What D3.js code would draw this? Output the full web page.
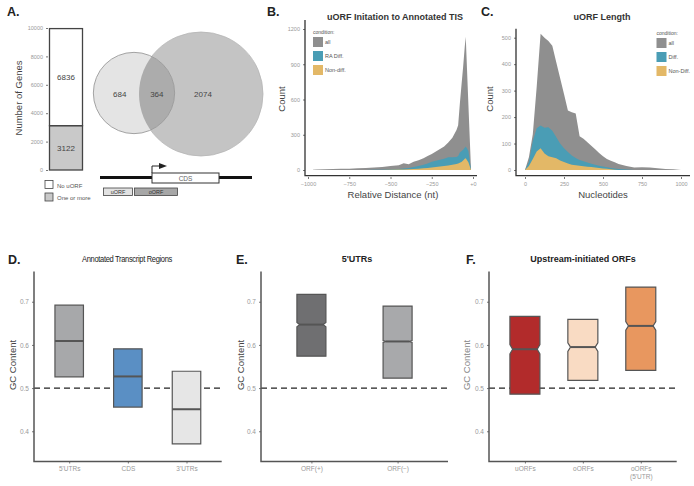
<!DOCTYPE html>
<html lang="en">
<head>
  <meta charset="utf-8">
  <title>uORF figure</title>
  <script src="https://d3js.org/d3.v7.min.js"></script>
  <style>
    body { margin: 0; background: #fff; }
    svg { font-family: "Liberation Sans", Arial, sans-serif; display: block; }
  </style>
</head>
<body>
  <script>
    // ---- panel A ----
    var geneCats = ['No uORF', 'One or more'];
    var geneCounts = [6836, 3122];
    var vennCounts = [684, 364, 2074];   // only-a, both, only-b

    // ---- panel B : distance of uORF start to annotated TIS ----
    var distB = [-970,-950,-900,-850,-800,-750,-700,-650,-600,-550,-500,-450,-420,-390,-360,-330,-300,-275,-250,-225,-200,-175,-150,-125,-100,-90,-80,-70,-60,-50,-44,-28,-12];
    var allB  = [3,5,6,8,10,11,14,17,22,25,34,40,57,50,70,82,100,120,136,158,179,200,235,275,340,380,560,720,874,1050,1135,560,0];
    var diffB = [0,0,0,0,0,0,1,1,2,3,5,9,12,16,26,35,45,55,70,79,88,95,108,108,110,120,150,160,172,190,199,164,0];
    var nonB  = [0,0,0,0,0,0,0,0,1,1,2,4,5,7,9,11,14,18,22,25,30,34,38,44,51,55,62,68,80,95,100,65,0];
    var condB = ['all', 'RA Diff.', 'Non-diff.'];

    // ---- panel C : uORF length ----
    var lenC  = [0,25,50,75,100,125,150,175,200,225,250,275,300,325,350,375,400,425,450,475,500,525,550,575,600,650,700,750,800,850,900,950,1000];
    var allC  = [0,48,135,315,515,500,488,470,408,348,287,225,218,214,128,118,105,92,78,64,52,42,35,29,23,15,9,10,9,7,4,3,0];
    var diffC = [0,30,110,158,168,160,162,148,125,100,82,68,55,45,38,33,28,24,20,16,13,10,8,6,4,2,0,0,0,0,0,0,0];
    var nonC  = [0,15,42,70,82,62,52,48,44,36,30,25,20,18,16,14,12,11,9,8,6,5,3,1,0,0,0,0,0,0,0,0,0];
    var condC = ['all', 'Diff.', 'Non-Diff.'];
    var condColors = ['#8f8f8f', '#4a9db5', '#e3b867'];

    // ---- panels D, E, F : GC content boxes ----
    var catsD = ["5'UTRs", 'CDS', "3'UTRs"];
    var lowD = [0.526, 0.456, 0.371], medD = [0.609, 0.527, 0.451], highD = [0.692, 0.591, 0.539];
    var catsE = ['ORF(+)', 'ORF(\u2212)'];
    var lowE = [0.574, 0.523], medE = [0.647, 0.608], highE = [0.717, 0.690];
    var notchE = [0.005, 0.002];
    var catsF = ['uORFs', 'oORFs', "oORFs\n(5'UTR)"];
    var lowF = [0.486, 0.518, 0.541], medF = [0.590, 0.595, 0.644], highF = [0.666, 0.659, 0.734];
    var notchF = [0.011, 0.010, 0.010];
    var gcTicks = [0.4, 0.5, 0.6, 0.7];

    var svg = d3.select('body').append('svg')
      .attr('width', 694).attr('height', 486);

    function letter(txt, x, y) {
      svg.append('text').attr('x', x).attr('y', y).text(txt)
        .attr('font-size', 12.5).attr('font-weight', 'bold').attr('fill', '#222');
    }
    function styleAxis(g, col) {
      g.select('.domain').remove();
      g.selectAll('line').attr('stroke', '#777');
      g.selectAll('text').attr('fill', col || '#999').attr('font-size', 5.5);
    }
    var plain = d3.format('d');

    // ===================== A =====================
    letter('A.', 7, 16);
    var yA = d3.scaleLinear().domain([0, 10000]).range([170, 28]);
    var gA = svg.append('g');
    gA.append('g').attr('transform', 'translate(48,0)')
      .call(d3.axisLeft(yA).tickValues([0, 2000, 4000, 6000, 8000, 10000]).tickSize(2)
        .tickSizeOuter(0).tickFormat(plain))
      .call(styleAxis);
    var stackA = d3.stack().keys([1, 0])([{0: geneCounts[0], 1: geneCounts[1]}]);
    var fillA = {0: '#ffffff', 1: '#c9c9c9'};
    stackA.forEach(function(s) {
      var d = s[0];
      gA.append('rect').attr('x', 49.5).attr('width', 33)
        .attr('y', yA(d[1])).attr('height', yA(d[0]) - yA(d[1]))
        .attr('fill', fillA[s.key]).attr('stroke', '#444').attr('stroke-width', 1.3);
      gA.append('text').attr('x', 66).attr('y', (yA(d[0]) + yA(d[1])) / 2 + 3)
        .attr('text-anchor', 'middle').attr('font-size', 8).attr('fill', '#444')
        .text(geneCounts[s.key]);
    });
    gA.append('text').attr('transform', 'translate(22,98) rotate(-90)')
      .attr('text-anchor', 'middle').attr('font-size', 9.5).attr('fill', '#444').text('Number of Genes');
    geneCats.forEach(function(c, i) {
      gA.append('rect').attr('x', 45).attr('y', 180.5 + i * 12.5).attr('width', 8).attr('height', 8)
        .attr('fill', fillA[i]).attr('stroke', '#444').attr('stroke-width', 0.8);
      gA.append('text').attr('x', 57).attr('y', 187.5 + i * 12.5).attr('font-size', 6)
        .attr('fill', '#555').text(c);
    });

    // venn
    var rV = d3.scaleSqrt().domain([0, vennCounts[1] + vennCounts[2]]).range([0, 62]);
    var cA = {x: 134, y: 93, r: rV(vennCounts[0] + vennCounts[1])};
    var cB = {x: 201, y: 94, r: rV(vennCounts[1] + vennCounts[2])};
    var defs = svg.append('defs');
    defs.append('clipPath').attr('id', 'clipB').append('circle')
      .attr('cx', cB.x).attr('cy', cB.y).attr('r', cB.r);
    svg.append('circle').attr('cx', cB.x).attr('cy', cB.y).attr('r', cB.r)
      .attr('fill', '#c4c4c4').attr('stroke', '#b5b5b5').attr('stroke-width', 0.8);
    svg.append('circle').attr('cx', cA.x).attr('cy', cA.y).attr('r', cA.r)
      .attr('fill', '#e4e4e4');
    svg.append('circle').attr('cx', cA.x).attr('cy', cA.y).attr('r', cA.r)
      .attr('fill', '#acacac').attr('clip-path', 'url(#clipB)');
    svg.append('circle').attr('cx', cA.x).attr('cy', cA.y).attr('r', cA.r)
      .attr('fill', 'none').attr('stroke', '#9a9a9a').attr('stroke-width', 0.9);
    var vennPos = [cA.x - cA.r / 2 + 6, (cB.x - cB.r + cA.x + cA.r) / 2, cB.x + 2];
    vennCounts.forEach(function(v, i) {
      svg.append('text').attr('x', vennPos[i]).attr('y', 96.5).attr('text-anchor', 'middle')
        .attr('font-size', 8).attr('fill', '#444').text(v);
    });

    // gene model sketch
    svg.append('line').attr('x1', 100).attr('x2', 252).attr('y1', 177.5).attr('y2', 177.5)
      .attr('stroke', '#111').attr('stroke-width', 3);
    svg.append('rect').attr('x', 152).attr('y', 173).attr('width', 67).attr('height', 10)
      .attr('fill', '#fff').attr('stroke', '#333').attr('stroke-width', 1);
    svg.append('text').attr('x', 185.5).attr('y', 180.8).attr('text-anchor', 'middle')
      .attr('font-size', 6.5).attr('fill', '#666').text('CDS');
    svg.append('path').attr('d', 'M152,173 V166 H160').attr('fill', 'none')
      .attr('stroke', '#222').attr('stroke-width', 1);
    svg.append('path').attr('d', 'M159,163 L167,166 L159,169 Z').attr('fill', '#222');
    [['uORF', 103.5, 29, '#e2e2e2'], ['oORF', 134.5, 43, '#a7a7a7']].forEach(function(b) {
      svg.append('rect').attr('x', b[1]).attr('y', 188).attr('width', b[2]).attr('height', 7.5)
        .attr('fill', b[3]).attr('stroke', '#444').attr('stroke-width', 0.8);
      svg.append('text').attr('x', b[1] + b[2] / 2).attr('y', 194).attr('text-anchor', 'middle')
        .attr('font-size', 5.5).attr('fill', '#333').text(b[0]);
    });

    // ===================== B & C (area charts) =====================
    function areaPanel(o) {
      var g = svg.append('g');
      var x = d3.scaleLinear().domain(o.xDom).range(o.xRange);
      var y = d3.scaleLinear().domain(o.yDom).range([170, o.yTop]);
      var area = d3.area().x(function(d) { return x(d[0]); })
        .y0(y(0)).y1(function(d) { return y(d[1]); });
      o.series.forEach(function(vals, i) {
        g.append('path').datum(o.xs.map(function(v, j) { return [v, vals[j]]; }))
          .attr('d', area).attr('fill', condColors[i]);
      });
      g.append('g').attr('transform', 'translate(' + o.axX + ',0)')
        .call(d3.axisLeft(y).tickValues(o.yTicks).tickSize(2).tickFormat(plain)).call(styleAxis);
      g.append('g').attr('transform', 'translate(0,177)')
        .call(d3.axisBottom(x).tickValues(o.xTicks).tickSize(2).tickFormat(o.fmt || plain))
        .call(styleAxis);
      g.append('path').attr('d', 'M' + o.axX + ',' + (o.yTop - 9) + ' V175.7 H' + o.axEnd)
        .attr('fill', 'none').attr('stroke', '#333').attr('stroke-width', 1.3);
      g.append('text').attr('x', o.titleX).attr('y', 19.5).attr('text-anchor', 'middle')
        .attr('font-size', 9).attr('font-weight', 'bold').attr('fill', '#333').text(o.title);
      g.append('text').attr('transform', 'translate(' + o.countX + ',99) rotate(-90)')
        .attr('text-anchor', 'middle').attr('font-size', 9.5).attr('fill', '#444').text('Count');
      g.append('text').attr('x', o.xLabX).attr('y', 198).attr('text-anchor', 'middle')
        .attr('font-size', 9.5).attr('fill', '#444').text(o.xLab);
      // legend
      g.append('text').attr('x', o.legX).attr('y', o.legY).attr('font-size', 5)
        .attr('fill', '#555').text('condition:');
      o.conds.forEach(function(c, i) {
        g.append('rect').attr('x', o.legX).attr('y', o.legY + 3 + i * 14)
          .attr('width', 10).attr('height', 10).attr('fill', condColors[i]);
        g.append('text').attr('x', o.legX + 12).attr('y', o.legY + 10 + i * 14)
          .attr('font-size', 5.5).attr('fill', '#555').text(c);
      });
    }

    letter('B.', 267, 16);
    areaPanel({
      xs: distB, series: [allB, diffB, nonB], conds: condB,
      xDom: [-1000, 0], xRange: [308, 473], yDom: [0, 1200], yTop: 29,
      xTicks: [-1000, -750, -500, -250, 0],
      fmt: function(d) { return d === 0 ? '+0' : plain(d); },
      yTicks: [0, 300, 600, 900, 1200],
      axX: 305, axEnd: 477, title: 'uORF Initation to Annotated TIS', titleX: 395,
      countX: 285, xLab: 'Relative Distance (nt)', xLabX: 393, legX: 313, legY: 34
    });

    letter('C.', 481, 16);
    areaPanel({
      xs: lenC, series: [allC, diffC, nonC], conds: condC,
      xDom: [0, 1000], xRange: [525, 681], yDom: [0, 500], yTop: 37.7,
      xTicks: [0, 250, 500, 750, 1000],
      yTicks: [0, 100, 200, 300, 400, 500],
      axX: 516, axEnd: 690, title: 'uORF Length', titleX: 602,
      countX: 493, xLab: 'Nucleotides', xLabX: 603, legX: 656.5, legY: 35
    });

    // ===================== D, E, F (box plots) =====================
    var yGC = d3.scaleLinear().domain([0.33, 0.77]).range([461.5, 271.5]);

    function boxPanel(o) {
      var g = svg.append('g');
      var x = d3.scalePoint().domain(o.cats).range([o.axX, o.axEnd]).padding(o.pad);
      g.append('line').attr('x1', o.axX).attr('x2', o.axEnd)
        .attr('y1', yGC(0.5)).attr('y2', yGC(0.5))
        .attr('stroke', '#222').attr('stroke-width', 1.4).attr('stroke-dasharray', '6,4');
      o.cats.forEach(function(c, i) {
        var cx = x(c), w = o.boxW / 2;
        var x0 = cx - w, x1 = cx + w;
        var nh = o.notch ? o.notch[i] : 0, d = o.notch ? 2.7 : 0;
        var yH = yGC(o.high[i]), yL = yGC(o.low[i]), ym = yGC(o.med[i]);
        var n1 = yGC(o.med[i] + nh), n2 = yGC(o.med[i] - nh);
        var p = d3.path();
        p.moveTo(x0, yH); p.lineTo(x1, yH); p.lineTo(x1, n1); p.lineTo(x1 - d, ym);
        p.lineTo(x1, n2); p.lineTo(x1, yL); p.lineTo(x0, yL); p.lineTo(x0, n2);
        p.lineTo(x0 + d, ym); p.lineTo(x0, n1); p.closePath();
        g.append('path').attr('d', p.toString()).attr('fill', o.colors[i])
          .attr('stroke', '#555').attr('stroke-width', 1.2);
        g.append('line').attr('x1', x0 + d).attr('x2', x1 - d).attr('y1', ym).attr('y2', ym)
          .attr('stroke', '#555').attr('stroke-width', 2);
      });
      var ya = g.append('g').attr('transform', 'translate(' + o.axX + ',0)')
        .call(d3.axisLeft(yGC).tickValues(gcTicks).tickSize(2).tickFormat(d3.format('.1f')))
        .call(styleAxis);
      ya.selectAll('text').attr('font-size', 6.5);
      var xa = g.append('g').attr('transform', 'translate(0,' + 461.5 + ')')
        .call(d3.axisBottom(x).tickSize(2)).call(styleAxis);
      xa.selectAll('text').attr('font-size', 6.5).attr('fill', '#999').each(function(t) {
        var parts = t.split('\n'), el = d3.select(this);
        el.text(null);
        parts.forEach(function(s, k) {
          el.append('tspan').attr('x', 0).attr('dy', k ? '1.15em' : '0.71em').text(s);
        });
      });
      g.append('path').attr('d', 'M' + o.axX + ',271.5 V461.5 H' + o.axEnd)
        .attr('fill', 'none').attr('stroke', '#555').attr('stroke-width', 1.5);
      g.append('text').attr('transform', 'translate(' + o.labX + ',365) rotate(-90)')
        .attr('text-anchor', 'middle').attr('font-size', 9.5).attr('fill', o.labCol).text('GC Content');
      var t = g.append('text').attr('x', o.titleX).attr('y', 261.5).attr('text-anchor', 'middle')
        .attr('font-size', 9).attr('fill', '#222').text(o.title);
      if (o.narrow) {
        t.attr('textLength', 90).attr('lengthAdjust', 'spacingAndGlyphs').attr('letter-spacing', -0.4);
      } else {
        t.attr('font-weight', 'bold');
      }
    }

    letter('D.', 8, 264);
    boxPanel({
      cats: catsD, low: lowD, med: medD, high: highD,
      colors: ['#a7a8aa', '#5a8fc4', '#e6e6e6'],
      axX: 34, axEnd: 221.7, pad: 0.6, boxW: 28.5,
      title: 'Annotated Transcript Regions', titleX: 127, narrow: true,
      labX: 16, labCol: '#444'
    });

    letter('E.', 236, 264);
    boxPanel({
      cats: catsE, low: lowE, med: medE, high: highE, notch: notchE,
      colors: ['#6f6f71', '#a8a9ab'],
      axX: 261, axEnd: 448, pad: 0.585, boxW: 29,
      title: "5'UTRs", titleX: 357, labX: 244, labCol: '#444'
    });

    letter('F.', 466, 264);
    boxPanel({
      cats: catsF, low: lowF, med: medF, high: highF, notch: notchF,
      colors: ['#b22b2b', '#f9dbc3', '#e8975f'],
      axX: 489, axEnd: 676.7, pad: 0.62, boxW: 30,
      title: 'Upstream-initiated ORFs', titleX: 583, labX: 470, labCol: '#888'
    });
  </script>
</body>
</html>
